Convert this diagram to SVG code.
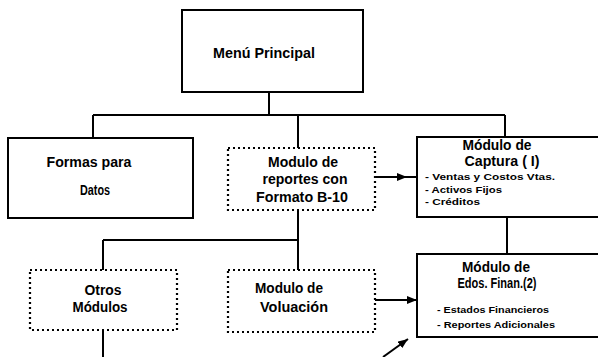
<svg xmlns="http://www.w3.org/2000/svg" width="598" height="357" viewBox="0 0 598 357">
<style>
.box{fill:#fff;stroke:#000;stroke-width:2}
.dot{fill:#fff;stroke:#000;stroke-width:2.2;stroke-dasharray:2 3}
.ln{fill:none;stroke:#000;stroke-width:2}
text{font-family:"Liberation Sans",Arial,sans-serif;font-weight:bold;fill:#000}
.t{font-size:14px;text-anchor:middle}
.s{font-size:9px}
</style>
<defs>
<marker id="ah" markerWidth="10" markerHeight="8" refX="10" refY="4" orient="auto" markerUnits="userSpaceOnUse">
<path d="M0,0 L10,4 L0,8 Z" fill="#000"/>
</marker>
</defs>
<rect width="598" height="357" fill="#fff"/>
<g id="connectors">
<path class="ln" d="M269,92 V115 M93,115 H505 M93,115 V138 M298,115 V148 M505,115 V137"/>
<path class="ln" d="M298,210 V240 M103,240 H298 M103,240 V270 M298,240 V270"/>
<path class="ln" d="M103,330 V357"/>
<path class="ln" d="M507,217 V254"/>
<path class="ln" d="M375,177 L407,177" marker-end="url(#ah)"/>
<path class="ln" d="M407,177 L417,177"/>
<path class="ln" d="M375,300 L417,300" marker-end="url(#ah)"/>
<path class="ln" d="M383,357 L408,339" marker-end="url(#ah)"/>
</g>
<g id="menu">
<rect class="box" x="182" y="10" width="181" height="82"/>
<text class="t" x="264" y="58" textLength="102" lengthAdjust="spacingAndGlyphs">Menú Principal</text>
</g>
<g id="formas">
<rect class="box" x="8" y="138" width="185" height="80"/>
<text class="t" x="89" y="167" textLength="85" lengthAdjust="spacingAndGlyphs">Formas para</text>
<text class="t" x="95" y="195" textLength="30" lengthAdjust="spacingAndGlyphs">Datos</text>
</g>
<g id="reportes">
<rect class="dot" x="228" y="148" width="147" height="62"/>
<text class="t" x="303" y="167" textLength="70" lengthAdjust="spacingAndGlyphs">Modulo de</text>
<text class="t" x="305" y="184" textLength="85" lengthAdjust="spacingAndGlyphs">reportes con</text>
<text class="t" x="302" y="202" textLength="92" lengthAdjust="spacingAndGlyphs">Formato B-10</text>
</g>
<g id="captura">
<rect class="box" x="417" y="137" width="190" height="80"/>
<text class="t" x="497" y="150" textLength="69" lengthAdjust="spacingAndGlyphs">Módulo de</text>
<text class="t" x="502" y="166" textLength="75" lengthAdjust="spacingAndGlyphs">Captura ( I)</text>
<text class="s" x="425" y="180" textLength="130" lengthAdjust="spacingAndGlyphs">- Ventas y Costos Vtas.</text>
<text class="s" x="425" y="193" textLength="77" lengthAdjust="spacingAndGlyphs">- Activos Fijos</text>
<text class="s" x="425" y="205" textLength="55" lengthAdjust="spacingAndGlyphs">- Créditos</text>
</g>
<g id="otros">
<rect class="dot" x="30" y="270" width="147" height="60"/>
<text class="t" x="103" y="295" textLength="37" lengthAdjust="spacingAndGlyphs">Otros</text>
<text class="t" x="100" y="312" textLength="55" lengthAdjust="spacingAndGlyphs">Módulos</text>
</g>
<g id="valuacion">
<rect class="dot" x="228" y="270" width="147" height="62"/>
<text class="t" x="289" y="293" textLength="68" lengthAdjust="spacingAndGlyphs">Modulo de</text>
<text class="t" x="294" y="312" textLength="68" lengthAdjust="spacingAndGlyphs">Voluación</text>
</g>
<g id="edos">
<rect class="box" x="417" y="254" width="190" height="83"/>
<text class="t" x="496" y="272" textLength="68" lengthAdjust="spacingAndGlyphs">Módulo de</text>
<text class="t" x="497" y="288" textLength="79" lengthAdjust="spacingAndGlyphs">Edos. Finan.(2)</text>
<text class="s" x="437" y="313" textLength="112" lengthAdjust="spacingAndGlyphs">- Estados Financieros</text>
<text class="s" x="437" y="328" textLength="118" lengthAdjust="spacingAndGlyphs">- Reportes Adicionales</text>
</g>
</svg>
